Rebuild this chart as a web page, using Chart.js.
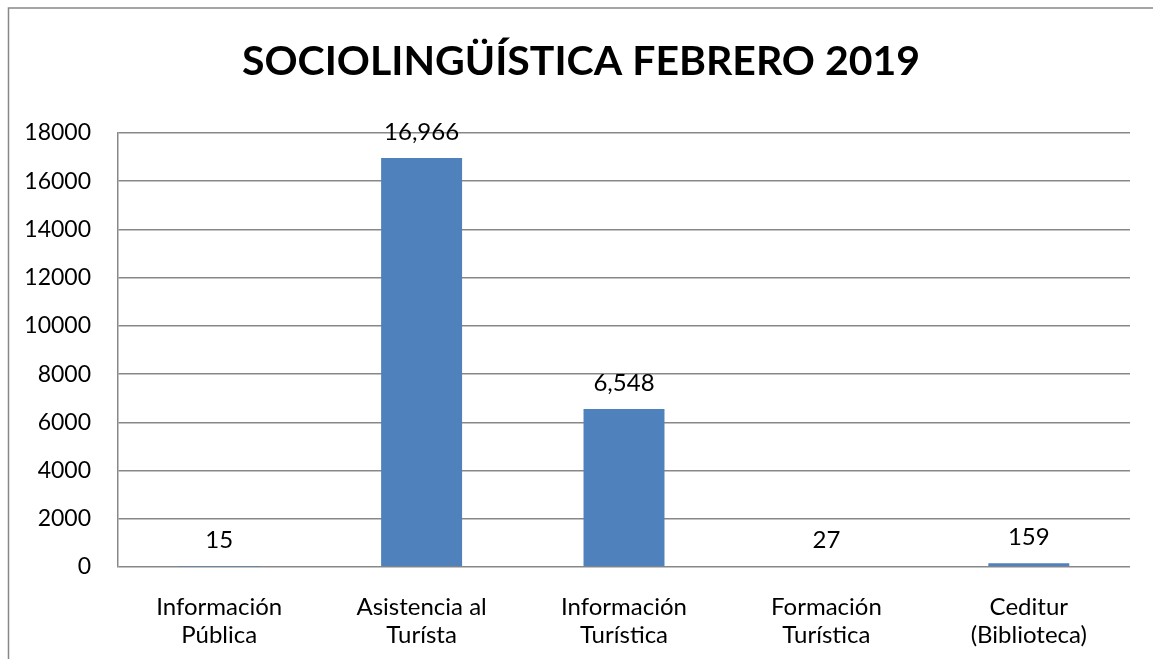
<!DOCTYPE html>
<html><head><meta charset="utf-8">
<script src="https://cdn.jsdelivr.net/npm/chart.js@4/dist/chart.umd.min.js"></script>
<style>
html,body{margin:0;padding:0;background:#fff;}
#wrap{position:absolute;left:0;top:0;width:1153px;height:659px;}
</style></head>
<body><div id="wrap"><canvas id="c" width="1153" height="659"></canvas></div>
<script>
const categories = [["Información","Pública"],["Asistencia al","Turísta"],["Información","Turística"],["Formación","Turística"],["Ceditur","(Biblioteca)"]];
const values = [15, 16966, 6548, 27, 159];
const yTicks = [0,2000,4000,6000,8000,10000,12000,14000,16000,18000];
const titleText = "SOCIOLINGÜÍSTICA FEBRERO 2019";
const FONT = "Lato, 'Liberation Sans', sans-serif";

const frame = {
  id:'frame',
  beforeDraw(chart){
    const ctx=chart.ctx; ctx.save();
    ctx.fillStyle='#fff'; ctx.fillRect(0,0,chart.width,chart.height);
    ctx.strokeStyle='#888'; ctx.lineWidth=1.5;
    ctx.beginPath();
    ctx.moveTo(8.5,700); ctx.lineTo(8.5,8); ctx.lineTo(1160,8);
    ctx.stroke();
    ctx.fillStyle='#000'; ctx.font='bold 41px '+FONT; ctx.textAlign='center'; ctx.textBaseline='middle';
    ctx.fillText(titleText, 581, 62);
    ctx.restore();
  }
};
const labels = {
  id:'vlabels',
  afterDatasetsDraw(chart){
    const ctx=chart.ctx; ctx.save();
    ctx.fillStyle='#000'; ctx.font='24px '+FONT; ctx.textAlign='center'; ctx.textBaseline='middle';
    chart.getDatasetMeta(0).data.forEach((el,i)=>{
      ctx.fillText(values[i].toLocaleString('en-US'), el.x, el.y-26);
    });
    ctx.restore();
  }
};

new Chart(document.getElementById('c'),{
  type:'bar',
  data:{labels:categories,datasets:[{data:values,backgroundColor:'#4F81BD',categoryPercentage:1,barPercentage:0.4}]},
  options:{
    responsive:false,animation:false,
    layout:{padding:{left:0,right:23,top:133,bottom:0}},
    plugins:{legend:{display:false},tooltip:{enabled:false},title:{display:false}},
    scales:{
      x:{grid:{display:false},border:{display:false},
        ticks:{color:'#000',font:{family:FONT,size:24,lineHeight:1.17},padding:18,maxRotation:0,autoSkip:false},
        afterFit(s){s.height=92;}},
      y:{min:0,max:18000,
        afterBuildTicks(s){s.ticks=yTicks.map(v=>({value:v}));},
        grid:{color:'#888',lineWidth:1.5,drawTicks:false},
        border:{display:true,color:'#888',width:1.5},
        ticks:{color:'#000',font:{family:FONT,size:23},padding:27,callback:v=>String(v)},
        afterFit(s){s.width=118;}}
    }
  },
  plugins:[frame,labels]
});
</script></body></html>
